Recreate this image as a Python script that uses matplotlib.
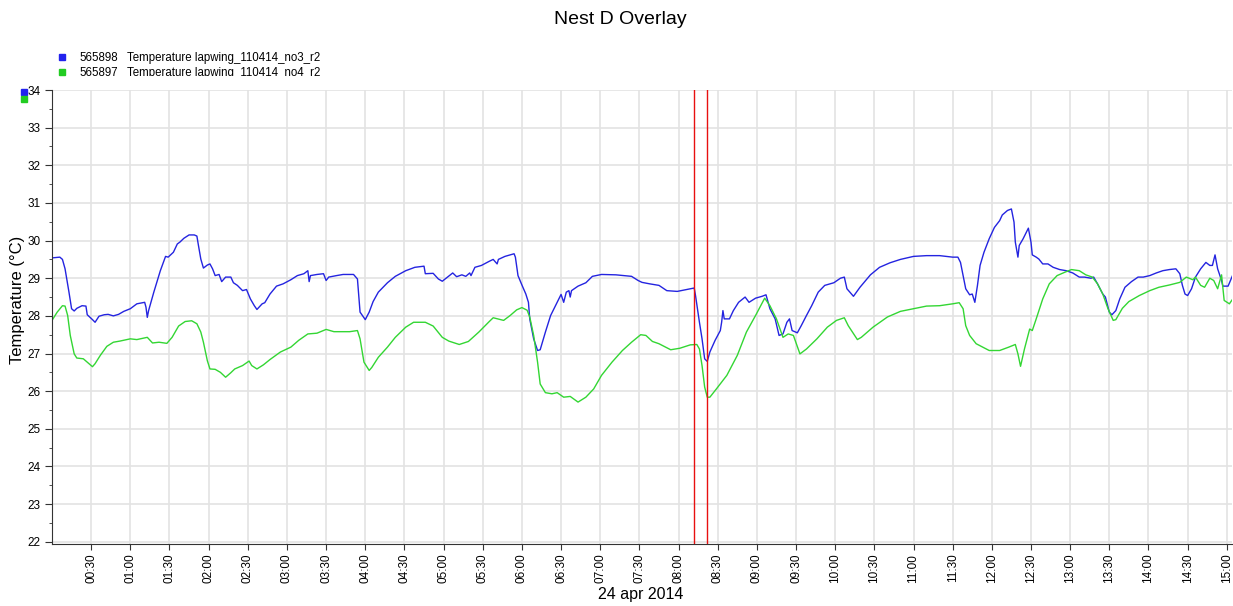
import datetime as dt
import pandas as pd
import matplotlib
matplotlib.use("Agg")
import matplotlib.pyplot as plt
import matplotlib.dates as mdates
from matplotlib.ticker import MultipleLocator
from matplotlib.transforms import Bbox
from matplotlib.lines import Line2D

plt.rcParams['font.family'] = ['Liberation Sans', 'DejaVu Sans']

# minutes after midnight, 24 apr 2014
blue_min = [0, 6, 8, 10, 13, 15, 17, 19, 23, 26, 27, 31, 33, 36, 40, 43, 47, 51, 55, 60,
            65, 71, 72, 73, 74, 78, 83, 87, 89, 93, 96, 98, 101, 105, 109, 111, 112, 114, 116, 119,
            121, 123, 125, 128, 130, 133, 137, 139, 142, 146, 149, 152, 155, 157, 161, 163, 167, 172, 177, 183,
            188, 193, 196, 197, 198, 203, 208, 210, 212, 218, 223, 229, 231, 234, 235, 236, 240, 243, 246, 250,
            257, 263, 271, 278, 285, 286, 292, 296, 299, 303, 307, 310, 314, 317, 320, 321, 324, 329, 335, 338,
            341, 342, 347, 354, 355, 357, 360, 363, 365, 366, 369, 372, 374, 378, 382, 387, 390, 392, 394, 396,
            397, 398, 403, 409, 414, 421, 432, 444, 449, 452, 458, 465, 471, 479, 486, 492, 493, 496, 498, 500,
            502, 504, 508, 512, 513, 514, 515, 519, 522, 526, 531, 534, 539, 544, 547, 550, 554, 557, 560, 563,
            565, 567, 571, 574, 578, 582, 587, 592, 599, 604, 607, 609, 614, 619, 627, 634, 642, 650, 660, 670,
            680, 690, 694, 696, 698, 700, 703, 705, 707, 709, 711, 714, 718, 722, 726, 728, 732, 735, 737, 738,
            740, 741, 744, 748, 750, 751, 754, 756, 759, 763, 767, 772, 777, 782, 787, 791, 796, 798, 801, 805,
            807, 810, 812, 815, 818, 822, 827, 832, 836, 841, 846, 851, 856, 861, 864, 866, 868, 870, 873, 876,
            880, 884, 887, 889, 891, 893, 896, 897, 901, 905]
blue_temp = [29.54, 29.56, 29.50, 29.25, 28.63, 28.19, 28.13, 28.20, 28.27, 28.26, 28.03, 27.90, 27.83, 27.99, 28.03, 28.04, 28.00, 28.04, 28.12, 28.19,
             28.32, 28.36, 28.23, 27.96, 28.14, 28.63, 29.20, 29.58, 29.56, 29.69, 29.91, 29.96, 30.06, 30.15, 30.15, 30.12, 29.91, 29.51, 29.27, 29.35,
             29.38, 29.25, 29.07, 29.10, 28.91, 29.03, 29.03, 28.88, 28.81, 28.67, 28.70, 28.45, 28.27, 28.17, 28.32, 28.35, 28.58, 28.79, 28.85, 28.96,
             29.07, 29.12, 29.20, 28.91, 29.07, 29.10, 29.12, 28.94, 29.03, 29.07, 29.10, 29.10, 29.10, 28.98, 28.54, 28.10, 27.90, 28.10, 28.38, 28.63,
             28.88, 29.05, 29.20, 29.29, 29.32, 29.12, 29.13, 28.98, 28.92, 29.03, 29.14, 29.04, 29.09, 29.05, 29.14, 29.07, 29.29, 29.34, 29.45, 29.50,
             29.38, 29.50, 29.58, 29.65, 29.56, 29.07, 28.82, 28.58, 28.36, 27.92, 27.39, 27.08, 27.10, 27.57, 28.01, 28.36, 28.57, 28.36, 28.63, 28.67,
             28.50, 28.67, 28.79, 28.88, 29.05, 29.10, 29.09, 29.05, 28.94, 28.89, 28.85, 28.81, 28.67, 28.65, 28.70, 28.74, 28.54, 27.83, 27.39, 26.86,
             26.79, 27.04, 27.35, 27.61, 27.83, 28.14, 27.92, 27.92, 28.14, 28.36, 28.50, 28.36, 28.47, 28.52, 28.56, 28.19, 27.92, 27.48, 27.52, 27.83,
             27.92, 27.61, 27.55, 27.74, 28.01, 28.27, 28.63, 28.81, 28.88, 29.00, 29.03, 28.72, 28.52, 28.76, 29.09, 29.29, 29.41, 29.50, 29.58, 29.60,
             29.60, 29.56, 29.56, 29.42, 29.07, 28.72, 28.56, 28.58, 28.36, 28.81, 29.34, 29.69, 30.05, 30.35, 30.53, 30.68, 30.80, 30.84, 30.49, 29.96,
             29.56, 29.87, 30.05, 30.33, 29.96, 29.62, 29.56, 29.51, 29.38, 29.38, 29.29, 29.23, 29.20, 29.14, 29.03, 29.03, 29.00, 29.03, 28.85, 28.58,
             28.50, 28.10, 28.03, 28.14, 28.45, 28.76, 28.91, 29.03, 29.03, 29.07, 29.14, 29.20, 29.23, 29.25, 29.12, 28.81, 28.58, 28.54, 28.72, 29.03,
             29.25, 29.42, 29.34, 29.34, 29.62, 29.25, 28.94, 28.79, 28.79, 29.12]

green_min = [0, 4, 8, 10, 12, 14, 17, 19, 24, 27, 31, 33, 37, 42, 47, 52, 60, 65, 73, 77,
             82, 88, 92, 97, 102, 107, 111, 114, 116, 119, 121, 125, 129, 133, 137, 140, 146, 151, 153, 157,
             162, 167, 175, 183, 189, 196, 203, 210, 216, 228, 234, 236, 239, 243, 245, 250, 257, 263, 271, 277,
             286, 292, 299, 304, 312, 319, 327, 335, 338, 346, 351, 356, 360, 364, 366, 369, 372, 374, 378, 383,
             387, 392, 397, 403, 409, 415, 421, 429, 437, 444, 451, 455, 460, 465, 474, 481, 489, 494, 496, 498,
             500, 502, 504, 509, 517, 525, 532, 539, 546, 550, 555, 560, 564, 568, 573, 578, 586, 594, 601, 607,
             610, 617, 620, 629, 640, 650, 660, 670, 680, 690, 695, 698, 700, 703, 708, 713, 718, 726, 733, 738,
             740, 742, 745, 749, 751, 754, 759, 764, 770, 776, 781, 787, 792, 797, 801, 805, 809, 813, 815, 820,
             825, 833, 841, 848, 856, 864, 869, 874, 876, 880, 883, 887, 890, 893, 896, 898, 902, 905]
green_temp = [27.88, 28.10, 28.27, 28.26, 28.01, 27.48, 26.99, 26.88, 26.86, 26.77, 26.65, 26.73, 26.95, 27.19, 27.30, 27.33, 27.39, 27.37, 27.43, 27.28,
              27.30, 27.27, 27.43, 27.73, 27.85, 27.87, 27.79, 27.57, 27.30, 26.81, 26.59, 26.58, 26.50, 26.37, 26.49, 26.59, 26.68, 26.80, 26.68, 26.59,
              26.70, 26.84, 27.04, 27.17, 27.35, 27.52, 27.54, 27.64, 27.58, 27.58, 27.61, 27.39, 26.77, 26.55, 26.63, 26.90, 27.17, 27.43, 27.70, 27.83,
              27.83, 27.73, 27.43, 27.33, 27.24, 27.32, 27.57, 27.85, 27.95, 27.88, 28.01, 28.16, 28.22, 28.15, 27.97, 27.48, 26.77, 26.19, 25.96, 25.93,
              25.96, 25.84, 25.86, 25.71, 25.84, 26.06, 26.42, 26.77, 27.08, 27.30, 27.50, 27.48, 27.32, 27.26, 27.10, 27.14, 27.23, 27.24, 27.12, 26.68,
              26.11, 25.84, 25.84, 26.06, 26.42, 26.95, 27.57, 28.01, 28.47, 28.27, 27.92, 27.43, 27.52, 27.48, 26.99, 27.12, 27.39, 27.70, 27.88, 27.95,
              27.74, 27.37, 27.43, 27.70, 27.97, 28.12, 28.19, 28.26, 28.27, 28.32, 28.35, 28.19, 27.74, 27.48, 27.26, 27.17, 27.08, 27.08, 27.17, 27.24,
              26.99, 26.66, 27.12, 27.65, 27.61, 27.92, 28.45, 28.85, 29.07, 29.16, 29.23, 29.20, 29.09, 29.03, 28.85, 28.58, 28.19, 27.88, 27.90, 28.20,
              28.38, 28.54, 28.67, 28.76, 28.82, 28.89, 29.03, 28.96, 29.03, 28.81, 28.76, 29.00, 28.94, 28.72, 29.09, 28.41, 28.32, 28.47]

blue_name = "565898"
green_name = "565897"
blue_label = "Temperature lapwing_110414_no3_r2"
green_label = "Temperature lapwing_110414_no4_r2"
cursor_times = ["08:12", "08:22"]

day = dt.datetime(2014, 4, 24)
def to_time(mins):
    return [day + dt.timedelta(minutes=m) for m in mins]

W, H = 1233, 606
fig = plt.figure(figsize=(W / 100, H / 100), dpi=100)
ax = fig.add_axes([52 / W, 1 - 544 / H, (1232 - 52) / W, (544 - 90) / H])

ax.plot(to_time(blue_min), blue_temp, color='#2424e0', lw=1.0)
ax.plot(to_time(green_min), green_temp, color='#33d633', lw=1.0)

for c in cursor_times:
    h, m = c.split(':')
    ax.axvline(day + dt.timedelta(hours=int(h), minutes=int(m)), color='#e81010', lw=1.0)

ax.set_xlim(day, day + dt.timedelta(minutes=904))
ax.set_ylim(21.94, 34)

ticks = pd.date_range('2014-04-24 00:30', '2014-04-24 15:00', freq='30min')
ax.set_xticks(ticks)
ax.xaxis.set_major_formatter(mdates.DateFormatter('%H:%M'))
ax.yaxis.set_major_locator(MultipleLocator(1))
ax.yaxis.set_minor_locator(MultipleLocator(0.5))
ax.tick_params(axis='x', labelrotation=90, labelsize=8.5, length=4, pad=3, color='#333333')
ax.tick_params(axis='y', which='major', labelsize=8.5, length=5, pad=3, color='#333333')
ax.tick_params(axis='y', which='minor', length=2.5, color='#333333')

ax.grid(True, which='major', color='#e3e3e3', lw=1.2)
ax.set_axisbelow(True)
for s in ['top', 'right']:
    ax.spines[s].set_visible(False)
for s in ['left', 'bottom']:
    ax.spines[s].set_color('#333333')

fig.text(620 / W, 1 - 19 / H, "Nest D Overlay", ha='center', va='center', fontsize=14)
fig.text(641 / W, 1 - 595 / H, "24 apr 2014", ha='center', va='center', fontsize=11.5)
fig.text(18 / W, 1 - 300 / H, "Temperature (°C)", ha='center', va='center', rotation=90, fontsize=12)

# legend rows at the top, the second one is cut off by the plot area
clip = Bbox([[0, H - 76], [W, H]])
rows = [(blue_name, blue_label, '#2222ee', 60.7), (green_name, green_label, '#22cc22', 75.7)]
for name, label, col, yb in rows:
    fig.add_artist(Line2D([62 / W], [1 - (yb - 3.5) / H], marker='s', ms=4.3, color=col, lw=0))
    t1 = fig.text(79 / W, 1 - yb / H, name, fontsize=8.3, va='baseline')
    t2 = fig.text(127 / W, 1 - yb / H, label, fontsize=8.3, va='baseline')
    for t in (t1, t2):
        t.set_clip_box(clip)
        t.set_clip_on(True)

# small series markers next to the top of the y axis
fig.add_artist(Line2D([24 / W], [1 - 92 / H], marker='s', ms=4.3, color='#2222ee', lw=0))
fig.add_artist(Line2D([24 / W], [1 - 99 / H], marker='s', ms=4.3, color='#22cc22', lw=0))

fig.savefig('out.png', dpi=100, facecolor='white')
